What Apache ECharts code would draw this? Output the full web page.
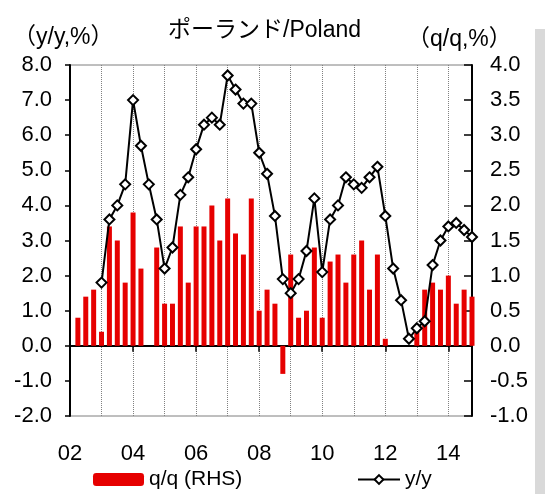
<!DOCTYPE html>
<html>
<head>
<meta charset="utf-8">
<script src="https://cdn.jsdelivr.net/npm/echarts@6/dist/echarts.min.js"></script>
<style>
  html, body { margin: 0; padding: 0; background: #fff; }
  #main { width: 545px; height: 494px; }
</style>
</head>
<body>
<div id="main"></div>
<script>
// 四半期 2002Q1 - 2014Q4
var quarters = [
  '02Q1','02Q2','02Q3','02Q4','03Q1','03Q2','03Q3','03Q4',
  '04Q1','04Q2','04Q3','04Q4','05Q1','05Q2','05Q3','05Q4',
  '06Q1','06Q2','06Q3','06Q4','07Q1','07Q2','07Q3','07Q4',
  '08Q1','08Q2','08Q3','08Q4','09Q1','09Q2','09Q3','09Q4',
  '10Q1','10Q2','10Q3','10Q4','11Q1','11Q2','11Q3','11Q4',
  '12Q1','12Q2','12Q3','12Q4','13Q1','13Q2','13Q3','13Q4',
  '14Q1','14Q2','14Q3','14Q4'
];

// 前期比 q/q (RHS)
var qoq = [
  null, 0.4, 0.7, 0.8, 0.2, 1.7, 1.5, 0.9,
  1.9, 1.1, 0, 1.4, 0.6, 0.6, 1.7, 0.9,
  1.7, 1.7, 2.0, 1.5, 2.1, 1.6, 1.3, 2.1,
  0.5, 0.8, 0.6, -0.4, 1.3, 0.4, 0.5, 1.4,
  0.4, 1.2, 1.3, 0.9, 1.3, 1.5, 0.8, 1.3,
  0.1, 0, 0, 0, 0.2, 0.8, 0.9, 0.8,
  1.0, 0.6, 0.8, 0.7
];

// 前年比 y/y
var yoy = [
  null, null, null, null, 1.8, 3.6, 4.0, 4.6,
  7.0, 5.7, 4.6, 3.6, 2.2, 2.8, 4.3, 4.8,
  5.6, 6.3, 6.5, 6.3, 7.7, 7.3, 6.9, 6.9,
  5.5, 4.9, 3.7, 1.9, 1.5, 1.9, 2.7, 4.2,
  2.1, 3.6, 4.0, 4.8, 4.6, 4.5, 4.8, 5.1,
  3.7, 2.2, 1.3, 0.2, 0.5, 0.7, 2.3, 3.0,
  3.4, 3.5, 3.3, 3.1
];

var yearLabels = ['02','04','06','08','10','12','14'];

var font = '"Liberation Sans", Arial, sans-serif';
var mixFont = '"Liberation Sans", "Noto Sans CJK JP", sans-serif';

var option = {
  animation: false,
  backgroundColor: '#fff',
  graphic: [{
    type: 'rect',
    shape: { x: 535, y: 29, width: 10, height: 465 },
    style: { fill: '#d9d9d9' },
    silent: true
  }],
  title: [
    { text: 'ポーランド/Poland', left: 163, top: 14,
      textStyle: { fontFamily: mixFont, fontSize: 23, fontWeight: 'normal', color: '#000' } },
    { text: '（y/y,%）', left: 8, top: 21,
      textStyle: { fontFamily: mixFont, fontSize: 23, fontWeight: 'normal', color: '#000' } },
    { text: '（q/q,%）', left: 402, top: 23,
      textStyle: { fontFamily: mixFont, fontSize: 23, fontWeight: 'normal', color: '#000' } }
  ],
  legend: [{
    data: ['q/q (RHS)'],
    left: 93, top: 469,
    padding: 0,
    itemWidth: 51, itemHeight: 13, itemGap: 6,
    textStyle: { fontFamily: font, fontSize: 21, color: '#000' }
  }, {
    data: ['y/y'],
    left: 357, top: 469,
    padding: 0,
    itemWidth: 42, itemHeight: 11, itemGap: 6,
    textStyle: { fontFamily: font, fontSize: 21, color: '#000' }
  }],
  grid: {
    left: 70, right: 73, top: 65, bottom: 78,
    show: true, borderColor: '#7f7f7f', borderWidth: 1,
    backgroundColor: 'transparent'
  },
  xAxis: [{
    type: 'category',
    data: quarters,
    boundaryGap: false,
    axisLine: { onZero: true, lineStyle: { color: '#000', width: 2 } },
    axisTick: { show: true, interval: 7, length: 6, inside: false, lineStyle: { color: '#000', width: 1.5 } },
    axisLabel: { show: false },
    splitLine: { show: true, interval: 3, lineStyle: { color: '#808080', type: 'dotted', width: 1 } }
  }, {
    type: 'category',
    data: quarters,
    boundaryGap: false,
    position: 'bottom',
    axisLine: { show: false, onZero: false },
    axisTick: { show: false },
    splitLine: { show: false },
    axisLabel: {
      interval: 7, margin: 27,
      fontFamily: font, fontSize: 22, color: '#000',
      formatter: function (v, i) { return yearLabels[i / 8]; }
    }
  }],
  yAxis: [{
    type: 'value',
    min: -2, max: 8, interval: 1,
    position: 'left',
    axisLine: { show: true, lineStyle: { color: '#000', width: 2 } },
    axisTick: { show: true, length: 5, lineStyle: { color: '#000', width: 1.5 } },
    splitLine: { show: false },
    axisLabel: {
      margin: 18, fontFamily: font, fontSize: 22, color: '#000',
      formatter: function (v) { return v.toFixed(1); }
    }
  }, {
    type: 'value',
    min: -1, max: 4, interval: 0.5,
    position: 'right',
    axisLine: { show: true, lineStyle: { color: '#000', width: 2 } },
    axisTick: { show: true, inside: true, length: 8, lineStyle: { color: '#000', width: 1.5 } },
    splitLine: { show: false },
    axisLabel: {
      margin: 18, fontFamily: font, fontSize: 22, color: '#000',
      formatter: function (v) { return v.toFixed(1); }
    }
  }],
  series: [{
    name: 'q/q (RHS)',
    type: 'bar',
    yAxisIndex: 1,
    data: qoq,
    barWidth: 5,
    itemStyle: { color: '#e60000' }
  }, {
    name: 'y/y',
    type: 'line',
    yAxisIndex: 0,
    data: yoy,
    symbol: 'diamond',
    symbolSize: 10,
    showAllSymbol: true,
    lineStyle: { color: '#000', width: 2 },
    itemStyle: { color: '#fff', borderColor: '#000', borderWidth: 2 }
  }]
};

var myChart = echarts.init(document.getElementById('main'));
myChart.setOption(option);
</script>
</body>
</html>
